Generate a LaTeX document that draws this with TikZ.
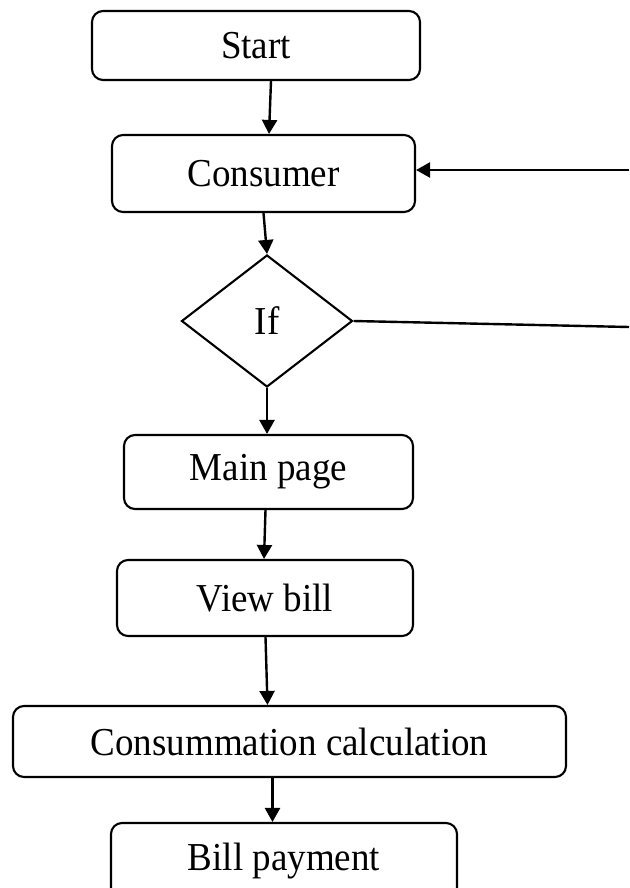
\documentclass[tikz,border=0pt]{standalone}
\usepackage{fontspec}
\setmainfont{Liberation Serif}
\usetikzlibrary{arrows.meta,shapes.geometric}

% label text, set slightly tall
\newcommand{\flowlabel}[1]{\scalebox{1}[1.07]{#1}}

\tikzset{
  flowbox/.style={draw, line width=2.1pt, rounded corners=11pt, inner sep=0pt,
    font=\fontsize{37}{44}\selectfont},
  decision/.style={draw, diamond, line width=2.1pt, inner sep=0pt,
    minimum width=171pt, minimum height=132pt, font=\fontsize{37}{44}\selectfont},
  arr/.style={line width=2.4pt, -{Triangle[length=14pt,width=15pt]}},
  link/.style={line width=2.4pt},
}

\begin{document}
\begin{tikzpicture}[x=1pt,y=-1pt]
  \useasboundingbox (0,0) rectangle (629,888);

  % process steps
  \node[flowbox, minimum width=328pt, minimum height=69pt] (start)    at (256,45.5)  {\flowlabel{Start}};
  \node[flowbox, minimum width=303pt, minimum height=77pt] (consumer) at (263.5,173.5) {\flowlabel{Consumer}};
  \node[decision] (if) at (267,321) {\flowlabel{If}};
  \node[flowbox, minimum width=289pt, minimum height=74pt] (main)     at (268.5,472) {\flowlabel{Main page}};
  \node[flowbox, minimum width=296pt, minimum height=76pt] (view)     at (265,598)   {\flowlabel{View bill}};
  \node[flowbox, minimum width=553pt, minimum height=71pt] (calc)     at (289.5,741.5) {\flowlabel{Consummation calculation}};
  \node[flowbox, minimum width=346pt, minimum height=76pt] (bill)     at (284,861)   {\flowlabel{Bill payment}};

  % loose ends of the return path
  \coordinate (fbR) at (629,170);
  \coordinate (ifR) at (629,327);

  % main flow
  \draw[arr] ([xshift=15pt]start.south) -- ([xshift=5.5pt]consumer.north);
  \draw[arr] (consumer.south) -- (if.north);
  \draw[arr] (if.south) -- (if.south |- main.north);
  \draw[arr] ([xshift=-3pt]main.south) -- ([xshift=-1pt]view.north);
  \draw[arr] ([xshift=0.5pt]view.south) -- ([xshift=-22pt]calc.north);
  \draw[arr] ([xshift=-17pt]calc.south) -- ([xshift=-17pt]calc.south |- bill.north);

  % return path back to the consumer
  \draw[link] (if.east) -- (ifR);
  \draw[arr] (fbR) -- (consumer.east |- fbR);
\end{tikzpicture}
\end{document}
